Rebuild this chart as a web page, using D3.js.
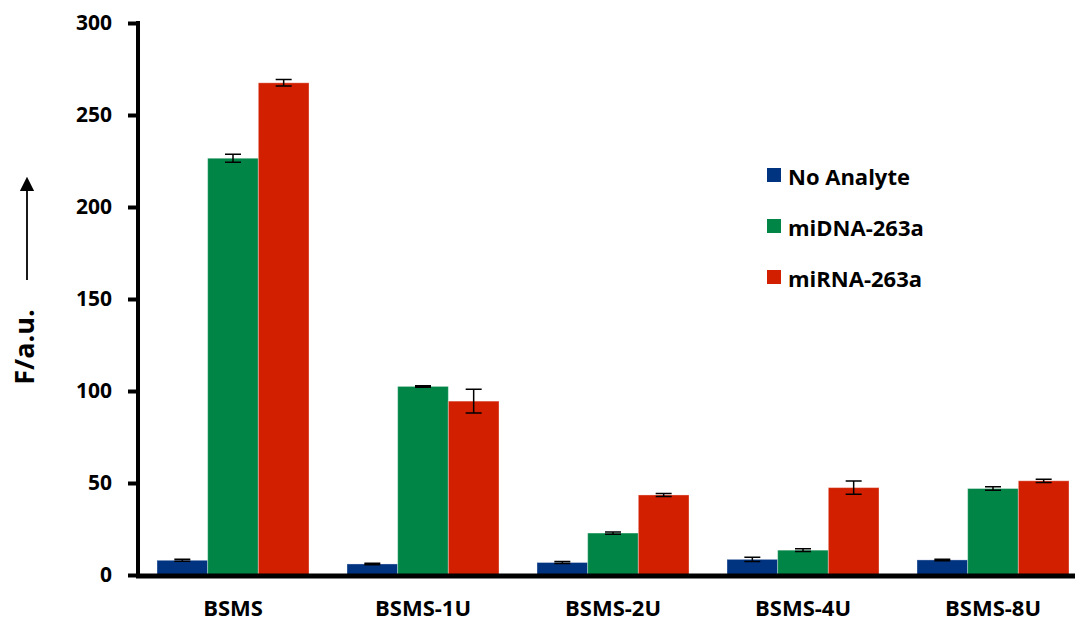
<!DOCTYPE html>
<html>
<head>
<meta charset="utf-8">
<script src="https://cdn.jsdelivr.net/npm/d3@7"></script>
<style>
    body { margin: 0; background: #fff; }
    text { font-family: "Open Sans", Lato, sans-serif; font-weight: bold; }
</style>
</head>
<body>
<div class="chart"></div>
<script>
    let groups = ["BSMS", "BSMS-1U", "BSMS-2U", "BSMS-4U", "BSMS-8U"]
    let series = ["No Analyte", "miDNA-263a", "miRNA-263a"]
    let noAnalyte = [8, 6, 6.8, 8.5, 8.2]
    let noAnalyteErr = [0.5, 0.4, 0.5, 1.2, 0.4]
    let miDNA = [226.5, 102.5, 22.8, 13.5, 47]
    let miDNAErr = [2.2, 0.4, 0.6, 0.7, 1]
    let miRNA = [267.5, 94.5, 43.5, 47.5, 51.2]
    let miRNAErr = [1.8, 6.5, 0.8, 3.6, 0.9]
    let yTicks = [0, 50, 100, 150, 200, 250, 300]

    let width = 1075, height = 621
    let colors = ["#003380", "#008546", "#d11f00"]
    let values = [noAnalyte, miDNA, miRNA],
        errors = [noAnalyteErr, miDNAErr, miRNAErr]

    let svg = d3.select(".chart")
        .append("svg")
        .attr("width", width)
        .attr("height", height)

    let x = d3.scaleBand()
        .domain(groups)
        .range([138, 1088])
        .paddingInner(0.2)
        .paddingOuter(0.1)
    let xInner = d3.scaleBand()
        .domain(series)
        .range([0, x.bandwidth()])
    let y = d3.scaleLinear()
        .domain([0, 300])
        .range([575, 23])

    // bars
    series.forEach((s, si) => {
        let g = svg.append("g")
        g.selectAll("rect")
            .data(groups)
            .enter()
            .append("rect")
            .attr("x", (d) => x(d) + xInner(s))
            .attr("y", (d, i) => y(values[si][i]))
            .attr("width", xInner.bandwidth())
            .attr("height", (d, i) => y(0) - y(values[si][i]))
            .attr("fill", colors[si])
            .attr("stroke", "rgba(255,255,255,0.35)")
            .attr("stroke-width", 1)
        //误差线
        let eg = svg.append("g").attr("stroke", "#000").attr("stroke-width", 1.5)
        groups.forEach((d, i) => {
            let cx = x(d) + xInner(s) + xInner.bandwidth() / 2
            let top = y(values[si][i] + errors[si][i]),
                bot = y(values[si][i] - errors[si][i])
            eg.append("path")
                .attr("fill", "none")
                .attr("d", `M${cx},${top} V${bot} M${cx - 8},${top} H${cx + 8} M${cx - 8},${bot} H${cx + 8}`)
        })
    })

    // y axis
    let yAxis = svg.append("g")
        .attr("transform", "translate(138,0)")
        .call(d3.axisLeft(y).tickValues(yTicks).tickSize(10).tickSizeOuter(0).tickPadding(16))
    yAxis.select(".domain").attr("stroke-width", 4).attr("d", `M0,${y(300) - 2} V${y(0) + 3}`)
    yAxis.selectAll(".tick line").attr("stroke-width", 4)
    yAxis.selectAll(".tick text").attr("font-size", 21).attr("fill", "#000")
        .attr("font-family", "'Open Sans', Lato, sans-serif").attr("font-weight", "bold")

    // x axis
    let xAxis = svg.append("g")
        .attr("transform", `translate(0,${y(0) + 1})`)
        .call(d3.axisBottom(x).tickSize(0).tickPadding(24))
    xAxis.select(".domain").attr("stroke-width", 5).attr("d", `M136,0 H${width}`)
    xAxis.selectAll(".tick text").attr("font-size", 22).attr("fill", "#000")
        .attr("font-family", "'Open Sans', Lato, sans-serif").attr("font-weight", "bold")

    // y label + arrow
    svg.append("text")
        .attr("transform", "translate(34,347) rotate(-90)")
        .attr("text-anchor", "middle")
        .attr("font-size", 27)
        .text("F/a.u.")
    svg.append("defs").append("marker")
        .attr("id", "arrow")
        .attr("viewBox", "0 0 10 10")
        .attr("refX", 5).attr("refY", 5)
        .attr("markerWidth", 8).attr("markerHeight", 8)
        .attr("orient", "auto")
        .append("path").attr("d", "M0,0 L10,5 L0,10 Z").attr("fill", "#000")
    svg.append("path")
        .attr("d", "M27,280 V184")
        .attr("stroke", "#000")
        .attr("stroke-width", 1.8)
        .attr("marker-end", "url(#arrow)")

    // legend
    let legend = svg.append("g")
    legend.selectAll("rect")
        .data(series)
        .enter()
        .append("rect")
        .attr("x", 767)
        .attr("y", (d, i) => 168 + 51 * i)
        .attr("width", 14)
        .attr("height", 14)
        .attr("fill", (d, i) => colors[i])
    legend.selectAll("text")
        .data(series)
        .enter()
        .append("text")
        .attr("x", 788)
        .attr("y", (d, i) => 185 + 51 * i)
        .attr("font-size", 22)
        .text((d) => d)
</script>
</body>
</html>
